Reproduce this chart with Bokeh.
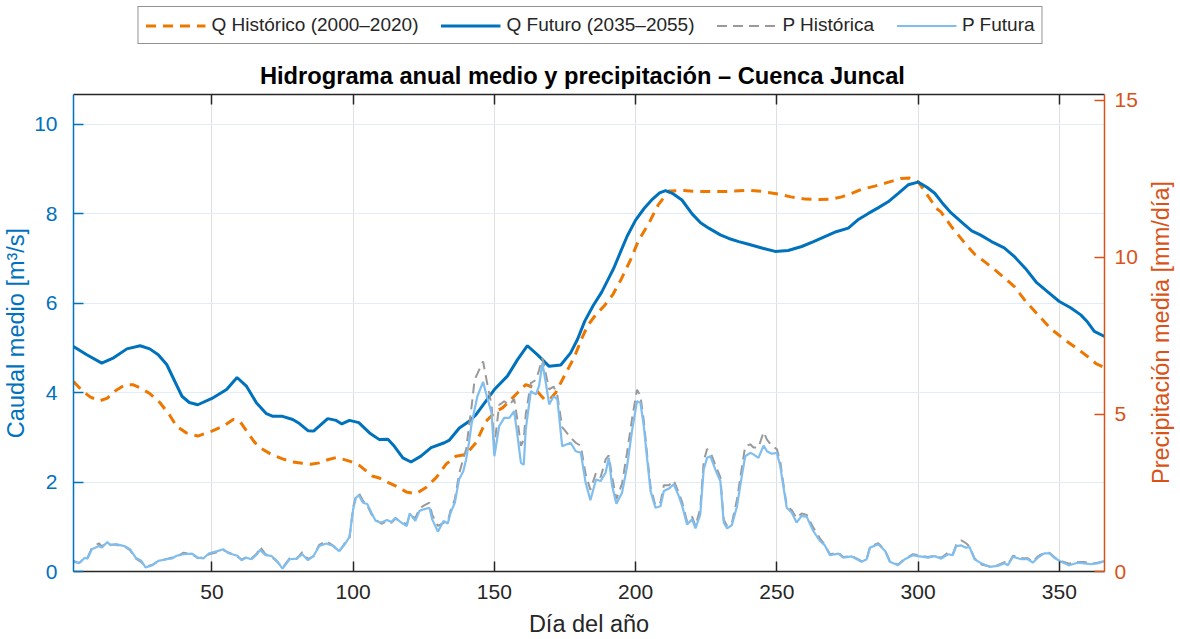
import math
from bokeh.plotting import figure
from bokeh.layouts import column, row
from bokeh.models import Range1d, LinearAxis, FixedTicker, Legend, LegendItem, Label
from bokeh.embed import file_html
from bokeh.resources import INLINE

# ---- Caudal medio [m3/s] (eje izquierdo) ----
q_hist_dia = [1, 4, 7, 10.4, 13, 16, 19.4, 22, 24.5, 28, 31.7, 35, 37.5, 41, 45, 50, 54, 57.5, 60, 62.3,
              65, 67, 71, 75, 78.6, 82, 85, 88, 91, 94, 96, 98.7, 102.3, 107, 109.3, 112, 115.2, 118.8,
              122.3, 125.8, 129.4, 132.9, 136.4, 139.9, 143.5, 147, 150.5, 152.9, 157, 161.1, 164.1,
              167.6, 169.5, 171.7, 175.3, 178.2, 180.8, 183, 186, 189, 192, 195, 198.2, 201, 204.7, 208,
              211.7, 217, 222.3, 231.7, 240, 245, 250.6, 255, 260, 265, 269.4, 273, 276.5, 280, 284.7,
              289, 294, 297, 300, 303, 306.5, 308, 312, 316.6, 320, 325, 330, 334, 338, 343.5, 347,
              351.8, 356, 360, 363, 366]
q_hist = [4.25, 4.05, 3.9, 3.82, 3.88, 4.05, 4.18, 4.18, 4.11, 3.98, 3.77, 3.5, 3.25, 3.1, 3.03, 3.14,
          3.25, 3.4, 3.35, 3.14, 2.9, 2.77, 2.62, 2.52, 2.45, 2.42, 2.4, 2.43, 2.5, 2.55, 2.52, 2.47,
          2.37, 2.13, 2.09, 2.0, 1.91, 1.78, 1.74, 1.88, 2.1, 2.4, 2.58, 2.62, 2.88, 3.36, 3.58, 3.66,
          3.92, 4.18, 4.11, 3.86, 3.84, 4.0, 4.44, 4.78, 5.19, 5.5, 5.75, 5.95, 6.2, 6.55, 6.97, 7.4,
          7.79, 8.2, 8.51, 8.52, 8.5, 8.5, 8.53, 8.5, 8.44, 8.38, 8.33, 8.32, 8.33, 8.38, 8.46, 8.55,
          8.62, 8.7, 8.79, 8.8, 8.72, 8.45, 8.12, 8.05, 7.7, 7.34, 7.1, 6.86, 6.6, 6.38, 6.05, 5.67,
          5.43, 5.19, 5.0, 4.81, 4.65, 4.56]

q_fut_dia = [1, 5.7, 11, 15.2, 19.9, 24.6, 28, 31, 34, 36.5, 39.4, 42, 45, 50, 55.2, 58.9, 62.3, 65.8,
             69.3, 71.6, 75, 78.6, 81, 84, 86, 88, 91, 94, 96, 98.7, 102, 105.8, 109.3, 112.3, 114.6,
             117.6, 120.5, 124, 127.6, 132.3, 134.1, 137.6, 141.1, 143.5, 147, 150, 154.6, 158.2,
             161.7, 165.2, 169.4, 173.5, 177, 179.4, 182, 185, 188, 190, 192.3, 195, 197, 200, 203,
             206, 208.5, 210.6, 213, 216.4, 220, 223, 225.9, 230, 233, 236.5, 240, 245, 249.4, 254,
             258.8, 263, 267, 271, 275.3, 279, 282.4, 286, 289.4, 293, 296.5, 300, 303, 305.9, 308.5,
             311.7, 316, 319, 322, 326, 330.5, 334, 338, 342, 346, 350, 354, 357.6, 360, 362.4, 366]
q_fut = [5.03, 4.85, 4.66, 4.78, 4.98, 5.05, 4.98, 4.85, 4.63, 4.3, 3.92, 3.78, 3.73, 3.87, 4.07, 4.34,
         4.14, 3.77, 3.53, 3.47, 3.47, 3.4, 3.31, 3.15, 3.14, 3.25, 3.42, 3.38, 3.3, 3.38, 3.33, 3.1,
         2.95, 2.96, 2.8, 2.54, 2.45, 2.58, 2.77, 2.88, 2.94, 3.21, 3.36, 3.51, 3.81, 4.07, 4.37, 4.74,
         5.05, 4.85, 4.59, 4.62, 4.89, 5.19, 5.6, 5.95, 6.25, 6.5, 6.79, 7.2, 7.5, 7.86, 8.12, 8.33,
         8.47, 8.52, 8.46, 8.31, 8.0, 7.8, 7.68, 7.53, 7.45, 7.38, 7.32, 7.23, 7.16, 7.18, 7.27, 7.38,
         7.49, 7.6, 7.68, 7.88, 8.01, 8.14, 8.27, 8.46, 8.65, 8.71, 8.6, 8.46, 8.25, 8.02, 7.78, 7.62,
         7.53, 7.38, 7.24, 7.05, 6.78, 6.46, 6.25, 6.04, 5.9, 5.74, 5.58, 5.37, 5.26]

# ---- Precipitación media [mm/día] (eje derecho) ----
p_dia = [1, 3, 5, 6, 7.5, 10, 11, 13, 14, 16, 19, 21, 23, 25, 26.5, 29, 31, 34, 36, 37.5, 40, 43, 45,
         47, 49, 52, 54, 56, 59, 60.5, 62, 64, 66, 67, 69, 71, 73, 75, 77.5, 80, 82, 84, 86, 88, 90.5,
         93, 95, 97, 98.7, 100, 101, 102, 103.5, 105, 106.5, 108, 110, 112, 113.5, 115, 117, 119, 120,
         122, 123.5, 125, 127, 128, 130, 132, 133.5, 134.5, 136, 137.5, 139, 140, 141, 142, 143, 144,
         146, 147, 149, 150, 151.7, 153.5, 155.3, 157, 158.2, 159.4, 160.4, 161.1, 162.9, 164.7,
         165.8, 167, 168.2, 169.4, 171, 172.3, 174, 177, 178.8, 180.6, 182.3, 184, 186, 187.6,
         189.4, 190.5, 191.7, 193.2, 195.2, 197, 198.8, 200.5, 201.7, 202.9, 204.1, 205.3, 207,
         208.8, 210, 211.8, 213.5, 215.3, 216.5, 218.2, 220, 221.2, 222.9, 224.1, 225.3, 226.5,
         228.2, 230, 231.2, 232.4, 234.1, 235.9, 237.6, 238.8, 240.6, 241.7, 243.5, 245.3, 246.5,
         248.2, 250, 251.2, 252.3, 253.5, 255.3, 257, 258.8, 260.6, 262.9, 265.3, 267, 268.8, 271.8,
         273.5, 276.5, 280, 281.8, 283, 285.9, 288.3, 290, 292.9, 295.3, 298.2, 300, 303.5, 305.9,
         308.2, 310.6, 312.3, 313.5, 315.3, 317, 318.2, 320, 322.4, 325.3, 328.2, 330.6, 331.8,
         333.6, 336.5, 338.9, 340.6, 342.4, 344.7, 346.5, 348.2, 350.6, 353.5, 356.5, 358.8, 361.2,
         363.5, 366]
p_fut = [0.34, 0.26, 0.44, 0.41, 0.71, 0.81, 0.76, 0.94, 0.84, 0.87, 0.81, 0.71, 0.44, 0.34, 0.13, 0.2,
         0.34, 0.39, 0.42, 0.5, 0.55, 0.57, 0.44, 0.42, 0.58, 0.65, 0.71, 0.58, 0.5, 0.36, 0.44, 0.39,
         0.55, 0.69, 0.52, 0.5, 0.34, 0.09, 0.39, 0.41, 0.55, 0.36, 0.5, 0.81, 0.89, 0.81, 0.65, 0.86,
         1.1, 1.98, 2.35, 2.43, 2.19, 2.15, 1.87, 1.61, 1.56, 1.64, 1.58, 1.71, 1.56, 1.45, 1.85, 1.61,
         1.93, 1.98, 2.03, 1.66, 1.27, 1.61, 1.53, 1.87, 2.19, 2.93, 3.19, 3.57, 4.1, 4.74, 5.16, 5.58,
         6.04, 5.69, 5.05, 3.67, 4.63, 4.89, 4.89, 5.11, 4.31, 3.46, 3.4, 4.52, 5.74, 5.64, 5.9, 6.64,
         6.01, 5.32, 5.58, 5.48, 3.99, 4.1, 3.83, 3.78, 2.83, 2.27, 2.93, 2.88, 3.15, 3.62, 2.72, 2.16,
         2.51, 3.36, 4.52, 5.42, 5.37, 4.63, 3.57, 2.56, 2.03, 2.08, 2.56, 2.64, 2.78, 2.4, 2.08, 1.5,
         1.66, 1.37, 1.82, 3.25, 3.62, 3.67, 3.25, 2.88, 1.56, 1.37, 1.48, 2.08, 3.04, 3.67, 3.78,
         3.73, 3.62, 4.01, 3.83, 3.75, 3.78, 3.36, 2.72, 2.03, 1.87, 1.56, 1.77, 1.74, 1.29, 0.97,
         0.83, 0.52, 0.57, 0.44, 0.48, 0.31, 0.39, 0.76, 0.87, 0.66, 0.31, 0.2, 0.39, 0.52, 0.49, 0.44,
         0.49, 0.41, 0.55, 0.52, 0.81, 0.83, 0.76, 0.78, 0.39, 0.26, 0.15, 0.18, 0.26, 0.2, 0.47, 0.39,
         0.39, 0.28, 0.44, 0.58, 0.58, 0.44, 0.31, 0.2, 0.28, 0.26, 0.23, 0.26, 0.33]
p_hist = [0.3, 0.28, 0.42, 0.45, 0.75, 0.9, 0.8, 0.92, 0.86, 0.85, 0.8, 0.68, 0.42, 0.3, 0.15, 0.22,
          0.32, 0.4, 0.45, 0.48, 0.6, 0.55, 0.42, 0.45, 0.55, 0.62, 0.68, 0.6, 0.48, 0.38, 0.45, 0.42,
          0.58, 0.79, 0.55, 0.48, 0.32, 0.12, 0.42, 0.4, 0.62, 0.4, 0.48, 0.85, 0.97, 0.82, 0.62, 0.9,
          1.05, 2.05, 2.4, 2.5, 2.25, 2.1, 1.82, 1.65, 1.52, 1.6, 1.55, 1.68, 1.6, 1.5, 1.8, 1.7, 2.0,
          2.1, 2.19, 1.8, 1.45, 1.55, 1.6, 1.95, 2.3, 3.1, 3.6, 3.89, 4.6, 5.3, 6.11, 6.3, 6.69, 6.2,
          5.3, 4.0, 5.3, 5.42, 5.3, 5.5, 4.8, 4.0, 4.2, 5.0, 6.0, 6.1, 6.4, 6.8, 6.3, 5.8, 5.89, 5.6,
          4.6, 4.26, 4.1, 4.0, 3.1, 2.6, 3.15, 3.0, 3.57, 3.7, 3.0, 2.3, 2.8, 3.8, 4.9, 5.79, 5.6, 4.8,
          3.7, 2.7, 2.1, 2.2, 2.75, 2.75, 2.9, 2.5, 2.2, 1.6, 1.75, 1.45, 2.0, 3.5, 3.9, 3.8, 3.4, 3.0,
          1.65, 1.45, 1.55, 2.3, 3.3, 3.99, 4.05, 3.95, 3.95, 4.44, 4.2, 4.0, 3.9, 3.5, 2.8, 2.1, 1.95,
          1.7, 1.85, 1.8, 1.4, 1.05, 0.85, 0.55, 0.6, 0.46, 0.5, 0.33, 0.4, 0.8, 0.9, 0.68, 0.33,
          0.22, 0.4, 0.55, 0.52, 0.46, 0.5, 0.44, 0.6, 0.55, 0.85, 0.99, 0.9, 0.8, 0.42, 0.22, 0.16,
          0.2, 0.3, 0.22, 0.5, 0.42, 0.42, 0.3, 0.48, 0.6, 0.6, 0.46, 0.33, 0.25, 0.3, 0.3, 0.25,
          0.28, 0.33]

x_ticks = [50, 100, 150, 200, 250, 300, 350]
q_ticks = [0, 2, 4, 6, 8, 10]
p_ticks = [0, 5, 10, 15]

series_labels = ["Q Histórico (2000–2020)", "Q Futuro (2035–2055)", "P Histórica", "P Futura"]
label_p = "Precipitación media [mm/día]"

FONT = "Liberation Sans"
AZUL = "#0072BD"
NARANJA_EJE = "#D95319"
NARANJA = "#EE7700"
GRIS = "#999999"
CELESTE = "#80BEF0"
TXT = "#262626"

estilos = [dict(line_color=NARANJA, line_width=3, line_dash="10 7"),
           dict(line_color=AZUL, line_width=3),
           dict(line_color=GRIS, line_width=2, line_dash="10 6"),
           dict(line_color=CELESTE, line_width=2.2)]

LEG_H = 50
LAB_W = 40
P_MAX = 15.19

# ---------------- main chart ----------------
p = figure(width=1180 - LAB_W, height=639 - LEG_H, output_backend="svg", toolbar_location=None,
           x_range=Range1d(1, 366), y_range=Range1d(0, 10.67),
           min_border_left=73, min_border_right=73 - LAB_W, min_border_bottom=67,
           min_border_top=94 - LEG_H, background_fill_color="white", border_fill_color="white")
p.extra_y_ranges = {"precip": Range1d(0, P_MAX)}
p.outline_line_color = None

p.line(q_hist_dia, q_hist, **estilos[0])
p.line(q_fut_dia, q_fut, **estilos[1])
p.line(p_dia, p_hist, y_range_name="precip", **estilos[2])
p.line(p_dia, p_fut, y_range_name="precip", **estilos[3])

p.xgrid.ticker = FixedTicker(ticks=x_ticks)
p.ygrid.ticker = FixedTicker(ticks=q_ticks)
p.xgrid.grid_line_color = "#DFDFDF"
p.ygrid.grid_line_color = "#E2ECF6"


def style_axis(ax, color, ticks, label=None):
    ax.ticker = FixedTicker(ticks=ticks)
    ax.axis_line_color = color
    ax.axis_line_width = 1.5
    ax.major_tick_line_color = color
    ax.major_tick_line_width = 1.5
    ax.major_tick_in = 10
    ax.major_tick_out = 0
    ax.minor_tick_line_color = None
    ax.major_label_text_color = color
    ax.major_label_text_font = FONT
    ax.major_label_text_font_size = "21px"
    if label is not None:
        ax.axis_label = label
        ax.axis_label_text_color = color
        ax.axis_label_text_font = FONT
        ax.axis_label_text_font_size = "23.5px"
        ax.axis_label_text_font_style = "normal"


style_axis(p.xaxis[0], TXT, x_ticks, "Día del año")
p.xaxis[0].major_label_standoff = 13
p.xaxis[0].axis_label_standoff = 9

style_axis(p.yaxis[0], AZUL, q_ticks, "Caudal medio [m³/s]")
p.yaxis[0].major_label_standoff = 16
p.yaxis[0].axis_label_standoff = 2

ax_r = LinearAxis(y_range_name="precip")
style_axis(ax_r, NARANJA_EJE, p_ticks)
ax_r.major_label_standoff = 10
p.add_layout(ax_r, "right")

ax_t = LinearAxis()
style_axis(ax_t, TXT, x_ticks)
ax_t.major_label_text_font_size = "0px"
ax_t.major_label_standoff = 0
p.add_layout(ax_t, "above")

p.title.text = "Hidrograma anual medio y precipitación  –  Cuenca Juncal"
p.title.align = "center"
p.title.text_font = FONT
p.title.text_font_size = "23.7px"
p.title.text_font_style = "bold"
p.title.text_color = "black"
p.title.standoff = 11

# ---------------- right-hand axis title strip ----------------
r = figure(width=LAB_W, height=639 - LEG_H, output_backend="svg", toolbar_location=None,
           x_range=Range1d(0, 1), y_range=Range1d(0, 1), x_axis_type=None, y_axis_type=None,
           min_border=0, background_fill_color="white", border_fill_color="white")
r.outline_line_color = None
r.grid.visible = False
r.add_layout(Label(x=0.5, y=0.501, text=label_p, angle=math.pi / 2, text_align="center",
                   text_baseline="middle", text_font=FONT, text_font_size="23.5px",
                   text_color=NARANJA_EJE))

# ---------------- legend strip ----------------
g = figure(width=1180, height=LEG_H, output_backend="svg", toolbar_location=None,
           x_range=Range1d(0, 1), y_range=Range1d(0, 1), x_axis_type=None, y_axis_type=None,
           min_border=0, background_fill_color="white", border_fill_color="white")
g.outline_line_color = None
g.grid.visible = False
# legend samples: lines lying outside the strip's visible range
muestras = [g.line([-3, -2], [-3, -2], **e) for e in estilos]
leyenda = Legend(items=[LegendItem(label=t, renderers=[m]) for t, m in zip(series_labels, muestras)],
                 orientation="horizontal", location="center",
                 label_text_font=FONT, label_text_font_size="19px", label_text_color=TXT,
                 glyph_width=60, glyph_height=21, label_height=21, label_standoff=6, spacing=22,
                 padding=7, border_line_color="#262626", border_line_width=1,
                 background_fill_color="white", background_fill_alpha=1, margin=0)
g.add_layout(leyenda)

open("out.html", "w").write(file_html(column(g, row(p, r, spacing=0), spacing=0), INLINE))
